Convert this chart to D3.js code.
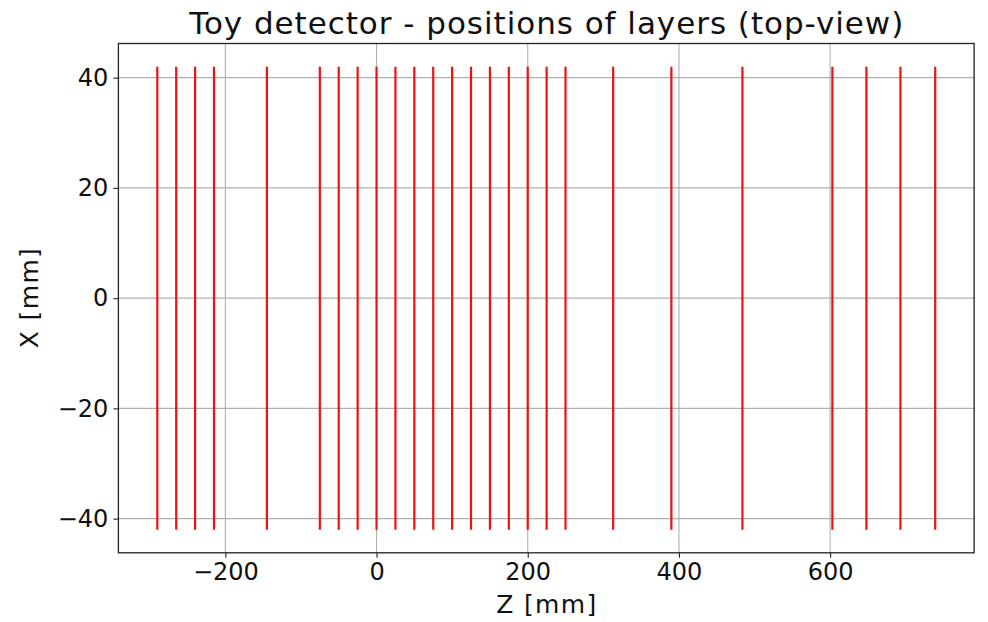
<!DOCTYPE html>
<html><head><meta charset="utf-8">
<script src="https://cdn.jsdelivr.net/npm/d3@7"></script>
<style>body{margin:0;background:#fff;} svg{display:block;}</style>
</head><body>
<svg id="chart" width="988" height="622"></svg>
<script>
const layerZ = [-290, -265, -240, -215, -145, -75, -50, -25, 0, 25, 50, 75, 100, 125, 150, 175, 200, 225, 250, 313, 390, 484, 603, 648, 693, 739];
const layerHalfWidth = 42;
const xTicks = [-200, 0, 200, 400, 600];
const yTicks = [-40, -20, 0, 20, 40];
const titleText = "Toy detector - positions of layers (top-view)";
const xLabel = "Z [mm]";
const yLabel = "X [mm]";

const svg = d3.select("#chart");
const m = {left: 118.4, right: 974.1, top: 43.5, bottom: 552.8};
const font = "'DejaVu Sans', sans-serif";

const zMin = d3.min(layerZ), zMax = d3.max(layerZ), zPad = (zMax - zMin) * 0.05;
const x = d3.scaleLinear().domain([zMin - zPad, zMax + zPad]).range([m.left, m.right]);
const yPad = 2 * layerHalfWidth * 0.05;
const y = d3.scaleLinear().domain([-layerHalfWidth - yPad, layerHalfWidth + yPad]).range([m.bottom, m.top]);

// grid
svg.append("g").selectAll("line").data(xTicks).join("line")
  .attr("x1", d => x(d)).attr("x2", d => x(d)).attr("y1", m.top).attr("y2", m.bottom)
  .attr("stroke", "#b0b0b0").attr("stroke-width", 1.1);
svg.append("g").selectAll("line").data(yTicks).join("line")
  .attr("y1", d => y(d)).attr("y2", d => y(d)).attr("x1", m.left).attr("x2", m.right)
  .attr("stroke", "#b0b0b0").attr("stroke-width", 1.1);

// layers
svg.append("g").selectAll("line").data(layerZ).join("line")
  .attr("x1", d => x(d)).attr("x2", d => x(d))
  .attr("y1", y(-layerHalfWidth)).attr("y2", y(layerHalfWidth))
  .attr("stroke", "#ee1111").attr("stroke-width", 2.2);

// axes
const fmt = d => d < 0 ? "\u2212" + Math.abs(d) : d;
const xAxis = d3.axisBottom(x).tickValues(xTicks).tickSize(5).tickPadding(5).tickFormat(fmt);
const yAxis = d3.axisLeft(y).tickValues(yTicks).tickSize(5).tickPadding(5).tickFormat(fmt);
const gx = svg.append("g").attr("transform", `translate(0,${m.bottom})`).call(xAxis);
const gy = svg.append("g").attr("transform", `translate(${m.left},0)`).call(yAxis);
[gx, gy].forEach(g => {
  g.select(".domain").remove();
  g.selectAll("text").attr("font-family", font).attr("font-size", 24).attr("fill", "#111");
  g.selectAll(".tick line").attr("stroke", "#222").attr("stroke-width", 1.1);
});

// frame
svg.append("rect").attr("x", m.left).attr("y", m.top).attr("width", m.right - m.left).attr("height", m.bottom - m.top)
  .attr("fill", "none").attr("stroke", "#222").attr("stroke-width", 1.3);

// labels
const cx = (m.left + m.right) / 2;
svg.append("text").attr("x", cx).attr("y", 34).attr("text-anchor", "middle")
  .attr("font-family", font).attr("font-size", 31).attr("fill", "#111")
  .attr("textLength", 714).attr("lengthAdjust", "spacing").text(titleText);
svg.append("text").attr("x", cx).attr("y", 613).attr("text-anchor", "middle")
  .attr("font-family", font).attr("font-size", 25).attr("fill", "#111")
  .attr("textLength", 100).attr("lengthAdjust", "spacing").text(xLabel);
svg.append("text").attr("transform", `translate(38,${(m.top + m.bottom) / 2}) rotate(-90)`).attr("text-anchor", "middle")
  .attr("font-family", font).attr("font-size", 25).attr("fill", "#111")
  .attr("textLength", 100).attr("lengthAdjust", "spacing").text(yLabel);
</script>
</body></html>
